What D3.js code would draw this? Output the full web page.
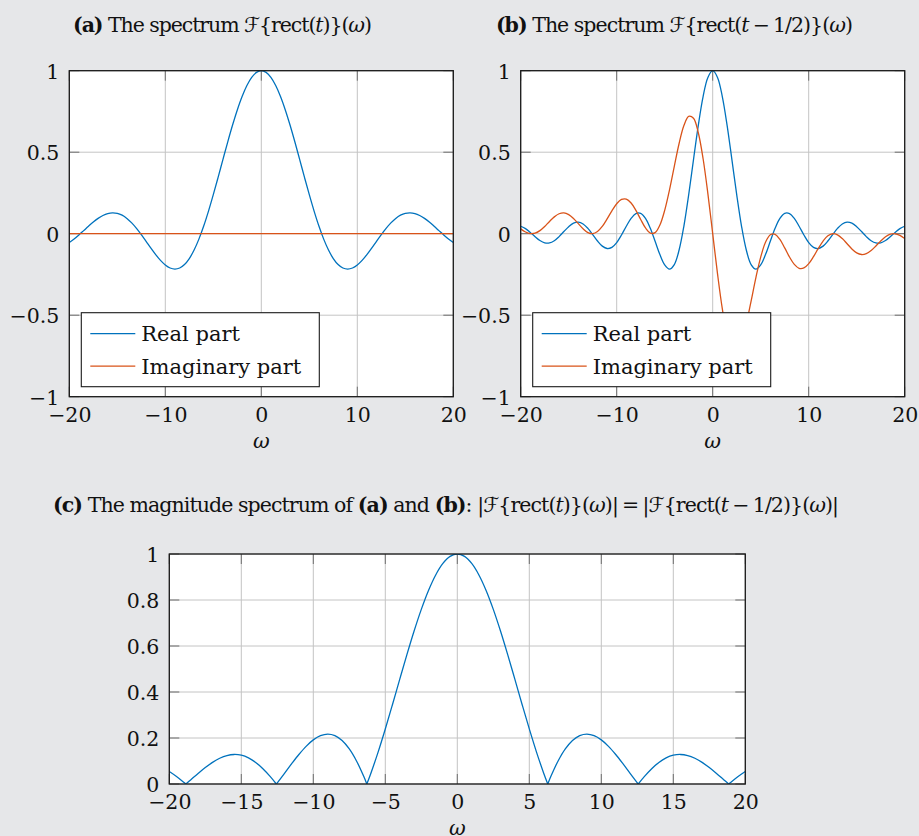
<!DOCTYPE html>
<html>
<head>
<meta charset="utf-8">
<script src="https://cdn.jsdelivr.net/npm/d3@7"></script>
<style>
  html, body { margin: 0; padding: 0; background: #e6e7e9; }
  svg { display: block; }
  text { font-family: "DejaVu Serif", "Liberation Serif", serif; fill: #111; }
</style>
</head>
<body>
<svg id="chart" width="919" height="836"></svg>
<script>
// Frequency samples shared by the spectra of rect(t) and rect(t - 1/2)
const omega = [
  -20, -19.5, -19, -18.5, -18, -17.5, -17, -16.5, -16, -15.5, -15, -14.5, -14, -13.5,
  -13, -12.5, -12, -11.5, -11, -10.5, -10, -9.5, -9, -8.5, -8, -7.5, -7, -6.5, -6,
  -5.5, -5, -4.5, -4, -3.5, -3, -2.5, -2, -1.5, -1, -0.5, 0, 0.5, 1, 1.5, 2, 2.5, 3,
  3.5, 4, 4.5, 5, 5.5, 6, 6.5, 7, 7.5, 8, 8.5, 9, 9.5, 10, 10.5, 11, 11.5, 12, 12.5,
  13, 13.5, 14, 14.5, 15, 15.5, 16, 16.5, 17, 17.5, 18, 18.5, 19, 19.5, 20
];

// (a) real part of F{rect(t)}
const rectReal = [
  -0.05440, -0.03273, -0.00791, 0.01880, 0.04579, 0.07140, 0.09394, 0.11183, 0.12367,
  0.12834, 0.12507, 0.11353, 0.09386, 0.06667, 0.03310, -0.00531, -0.04657, -0.08840,
  -0.12828, -0.16361, -0.19178, -0.21038, -0.21723, -0.21059, -0.18920, -0.15242,
  -0.10022, -0.03329, 0.04704, 0.13879, 0.23939, 0.34581, 0.45465, 0.56228, 0.66500,
  0.75919, 0.84147, 0.90885, 0.95885, 0.98962, 1, 0.98962, 0.95885, 0.90885, 0.84147,
  0.75919, 0.66500, 0.56228, 0.45465, 0.34581, 0.23939, 0.13879, 0.04704, -0.03329,
  -0.10022, -0.15242, -0.18920, -0.21059, -0.21723, -0.21038, -0.19178, -0.16361,
  -0.12828, -0.08840, -0.04657, -0.00531, 0.03310, 0.06667, 0.09386, 0.11353, 0.12507,
  0.12834, 0.12367, 0.11183, 0.09394, 0.07140, 0.04579, 0.01880, -0.00791, -0.03273,
  -0.05440
];

// (a) imaginary part of F{rect(t)} is identically zero
const omegaEnds = [-20, 20];
const rectImag = [0, 0];

// (b) real part of F{rect(t - 1/2)}
const shiftedReal = [
  0.04565, 0.03105, 0.00789, -0.01851, -0.04172, -0.05575, -0.05655, -0.04314, -0.01799,
  0.01332, 0.04335, 0.06448, 0.07076, 0.05954, 0.03232, -0.00531, -0.04471, -0.07613,
  -0.09091, -0.08378, -0.05440, -0.00791, 0.04579, 0.09394, 0.12367, 0.12507, 0.09386,
  0.03310, -0.04657, -0.12828, -0.19178, -0.21723, -0.18920, -0.10022, 0.04704, 0.23939,
  0.45465, 0.66500, 0.84147, 0.95885, 1, 0.95885, 0.84147, 0.66500, 0.45465, 0.23939,
  0.04704, -0.10022, -0.18920, -0.21723, -0.19178, -0.12828, -0.04657, 0.03310, 0.09386,
  0.12507, 0.12367, 0.09394, 0.04579, -0.00791, -0.05440, -0.08378, -0.09091, -0.07613,
  -0.04471, -0.00531, 0.03232, 0.05954, 0.07076, 0.06448, 0.04335, 0.01332, -0.01799,
  -0.04314, -0.05655, -0.05575, -0.04172, -0.01851, 0.00789, 0.03105, 0.04565
];

// (b) imaginary part of F{rect(t - 1/2)}
const shiftedImag = [
  0.02960, 0.01047, 0.00059, 0.00327, 0.01887, 0.04460, 0.07501, 0.10318, 0.12235,
  0.12764, 0.11731, 0.09344, 0.06166, 0.03001, 0.00712, 0.00018, 0.01301, 0.04493,
  0.09051, 0.14053, 0.18391, 0.21023, 0.21235, 0.18847, 0.14319, 0.08712, 0.03516,
  0.00360, 0.00664, 0.05297, 0.14327, 0.26907, 0.41341, 0.55327, 0.66333, 0.72046,
  0.70807, 0.61951, 0.45970, 0.24483, 0, -0.24483, -0.45970, -0.61951, -0.70807,
  -0.72046, -0.66333, -0.55327, -0.41341, -0.26907, -0.14327, -0.05297, -0.00664,
  -0.00360, -0.03516, -0.08712, -0.14319, -0.18847, -0.21235, -0.21023, -0.18391,
  -0.14053, -0.09051, -0.04493, -0.01301, -0.00018, -0.00712, -0.03001, -0.06166,
  -0.09344, -0.11731, -0.12764, -0.12235, -0.10318, -0.07501, -0.04460, -0.01887,
  -0.00327, -0.00059, -0.01047, -0.02960
];

// (c) magnitude spectrum, sampled with its zeros included
const omegaMag = [
  -20, -19.5, -19, -18.8496, -18.5, -18, -17.5, -17, -16.5, -16, -15.5, -15, -14.5, -14,
  -13.5, -13, -12.5664, -12.5, -12, -11.5, -11, -10.5, -10, -9.5, -9, -8.5, -8, -7.5, -7,
  -6.5, -6.2832, -6, -5.5, -5, -4.5, -4, -3.5, -3, -2.5, -2, -1.5, -1, -0.5, 0, 0.5, 1,
  1.5, 2, 2.5, 3, 3.5, 4, 4.5, 5, 5.5, 6, 6.2832, 6.5, 7, 7.5, 8, 8.5, 9, 9.5, 10, 10.5,
  11, 11.5, 12, 12.5, 12.5664, 13, 13.5, 14, 14.5, 15, 15.5, 16, 16.5, 17, 17.5, 18,
  18.5, 18.8496, 19, 19.5, 20
];
const magnitude = [
  0.05440, 0.03273, 0.00791, 0, 0.01880, 0.04579, 0.07140, 0.09394, 0.11183, 0.12367,
  0.12834, 0.12507, 0.11353, 0.09386, 0.06667, 0.03310, 0, 0.00531, 0.04657, 0.08840,
  0.12828, 0.16361, 0.19178, 0.21038, 0.21723, 0.21059, 0.18920, 0.15242, 0.10022,
  0.03329, 0, 0.04704, 0.13879, 0.23939, 0.34581, 0.45465, 0.56228, 0.66500, 0.75919,
  0.84147, 0.90885, 0.95885, 0.98962, 1, 0.98962, 0.95885, 0.90885, 0.84147, 0.75919,
  0.66500, 0.56228, 0.45465, 0.34581, 0.23939, 0.13879, 0.04704, 0, 0.03329, 0.10022,
  0.15242, 0.18920, 0.21059, 0.21723, 0.21038, 0.19178, 0.16361, 0.12828, 0.08840,
  0.04657, 0.00531, 0, 0.03310, 0.06667, 0.09386, 0.11353, 0.12507, 0.12834, 0.12367,
  0.11183, 0.09394, 0.07140, 0.04579, 0.01880, 0, 0.00791, 0.03273, 0.05440
];

// Tick values
const ticksX_ab = [-20, -10, 0, 10, 20];
const ticksY_ab = [-1, -0.5, 0, 0.5, 1];
const ticksX_c = [-20, -15, -10, -5, 0, 5, 10, 15, 20];
const ticksY_c = [0, 0.2, 0.4, 0.6, 0.8, 1];

const legendLabels = ["Real part", "Imaginary part"];

const BLUE = "#0072bd";
const ORANGE = "#d95319";

const svg = d3.select("#chart");
const fmt = d3.format("");

function zip(xs, ys) { return xs.map((x, i) => [x, ys[i]]); }

let clipCount = 0;

function drawPanel(opt) {
  const { left, top, width, height } = opt;
  const x = d3.scaleLinear().domain(opt.xDomain).range([0, width]);
  const y = d3.scaleLinear().domain(opt.yDomain).range([height, 0]);
  const g = svg.append("g").attr("transform", `translate(${left},${top})`);

  // plot area
  g.append("rect").attr("width", width).attr("height", height).attr("fill", "#fff");

  // grid
  g.append("g").selectAll("line").data(opt.xTicks).join("line")
    .attr("x1", d => x(d)).attr("x2", d => x(d)).attr("y1", 0).attr("y2", height)
    .attr("stroke", "#c4c4c4").attr("stroke-width", 1);
  g.append("g").selectAll("line").data(opt.yTicks).join("line")
    .attr("y1", d => y(d)).attr("y2", d => y(d)).attr("x1", 0).attr("x2", width)
    .attr("stroke", "#c4c4c4").attr("stroke-width", 1);

  // inner tick marks on all four sides
  const tl = 10;
  const tk = g.append("g").attr("stroke", "#6e6e6e").attr("stroke-width", 1);
  opt.xTicks.forEach(d => {
    tk.append("line").attr("x1", x(d)).attr("x2", x(d)).attr("y1", height).attr("y2", height - tl);
    tk.append("line").attr("x1", x(d)).attr("x2", x(d)).attr("y1", 0).attr("y2", tl);
  });
  opt.yTicks.forEach(d => {
    tk.append("line").attr("y1", y(d)).attr("y2", y(d)).attr("x1", 0).attr("x2", tl);
    tk.append("line").attr("y1", y(d)).attr("y2", y(d)).attr("x1", width).attr("x2", width - tl);
  });

  // curves, clipped to the plot area
  const cid = "clip" + (clipCount++);
  g.append("clipPath").attr("id", cid).append("rect").attr("width", width).attr("height", height);
  const cg = g.append("g").attr("clip-path", `url(#${cid})`);
  const line = d3.line().x(d => x(d[0])).y(d => y(d[1])).curve(d3.curveCatmullRom);
  opt.series.forEach(s => {
    s.pieces.forEach(p => {
      cg.append("path").attr("d", line(p)).attr("fill", "none")
        .attr("stroke", s.color).attr("stroke-width", 1.3)
        .attr("stroke-linejoin", "round");
    });
  });

  // frame
  g.append("rect").attr("width", width).attr("height", height)
    .attr("fill", "none").attr("stroke", "#1a1a1a").attr("stroke-width", 1.3);

  // tick labels
  const xAxis = d3.axisBottom(x).tickValues(opt.xTicks).tickSize(0).tickPadding(0).tickFormat(fmt);
  const ax = g.append("g").attr("transform", `translate(0,${height})`).call(xAxis);
  ax.select(".domain").remove();
  ax.selectAll("text").attr("y", 25).attr("dy", null)
    .style("font-family", '"DejaVu Serif", serif').style("font-size", "20.5px").attr("fill", "#111");

  const yAxis = d3.axisLeft(y).tickValues(opt.yTicks).tickSize(0).tickPadding(0).tickFormat(fmt);
  const ay = g.append("g").call(yAxis);
  ay.select(".domain").remove();
  ay.selectAll("text").attr("x", -10).attr("dy", "0.36em")
    .style("font-family", '"DejaVu Serif", serif').style("font-size", "20.5px").attr("fill", "#111");

  // axis label
  g.append("text").attr("x", x(0)).attr("y", height + 51).attr("text-anchor", "middle")
    .style("font-size", "20.5px").style("font-style", "italic").text("ω");

  // legend
  if (opt.legend) {
    const lw = 238, lh = 74;
    const lg = g.append("g").attr("transform", `translate(12,${height - 10 - lh})`);
    lg.append("rect").attr("width", lw).attr("height", lh)
      .attr("fill", "#fff").attr("stroke", "#1a1a1a").attr("stroke-width", 1.1);
    opt.series.forEach((s, i) => {
      const ly = 21 + i * 32.4;
      lg.append("line").attr("x1", 9).attr("x2", 54).attr("y1", ly).attr("y2", ly)
        .attr("stroke", s.color).attr("stroke-width", 1.3);
      lg.append("text").attr("x", 60).attr("y", ly + 7.6)
        .style("font-size", "21px").text(legendLabels[i]);
    });
  }
  return g;
}

// split a sampled curve at its zero samples so each lobe is a separate piece
function lobes(xs, ys) {
  const out = [];
  let cur = [];
  xs.forEach((xv, i) => {
    cur.push([xv, ys[i]]);
    if (ys[i] === 0 && cur.length > 1) { out.push(cur); cur = [[xv, ys[i]]]; }
  });
  if (cur.length > 1) out.push(cur);
  return out;
}

drawPanel({
  left: 69.3, top: 70.7, width: 384, height: 326,
  xDomain: [-20, 20], yDomain: [-1, 1], xTicks: ticksX_ab, yTicks: ticksY_ab,
  series: [
    { color: BLUE, pieces: [zip(omega, rectReal)] },
    { color: ORANGE, pieces: [zip(omegaEnds, rectImag)] }
  ],
  legend: true
});

drawPanel({
  left: 520.7, top: 70.7, width: 384, height: 326,
  xDomain: [-20, 20], yDomain: [-1, 1], xTicks: ticksX_ab, yTicks: ticksY_ab,
  series: [
    { color: BLUE, pieces: [zip(omega, shiftedReal)] },
    { color: ORANGE, pieces: [zip(omega, shiftedImag)] }
  ],
  legend: true
});

drawPanel({
  left: 169.3, top: 554, width: 576, height: 230,
  xDomain: [-20, 20], yDomain: [0, 1], xTicks: ticksX_c, yTicks: ticksY_c,
  series: [
    { color: BLUE, pieces: lobes(omegaMag, magnitude) }
  ],
  legend: false
});

// captions, each fitted to its line width
function caption(cx, cy, span, parts) {
  const t = svg.append("text").attr("x", cx).attr("y", cy).attr("text-anchor", "middle")
    .attr("textLength", span).attr("lengthAdjust", "spacing")
    .style("font-size", "20.5px");
  parts.forEach(p => {
    const s = t.append("tspan").text(p.t);
    if (p.b) s.style("font-weight", "bold");
    if (p.i) s.style("font-style", "italic");
    if (p.s) s.style("font-family", '"DejaVu Sans", "DejaVu Serif", serif');
  });
}

const MS = "\u2005"; // medium space around binary operators in the formulas

caption(222.5, 31.5, 299, [
  { t: "(a)", b: true }, { t: " The spectrum " }, { t: "ℱ", s: true },
  { t: "{rect(" }, { t: "t", i: true }, { t: ")}(" }, { t: "ω", i: true }, { t: ")" }
]);
caption(674.4, 31.5, 357, [
  { t: "(b)", b: true }, { t: " The spectrum " }, { t: "ℱ", s: true },
  { t: "{rect(" }, { t: "t", i: true }, { t: MS + "−" + MS + "1/2)}(" }, { t: "ω", i: true }, { t: ")" }
]);
caption(446, 512, 786, [
  { t: "(c)", b: true }, { t: " The magnitude spectrum of " }, { t: "(a)", b: true },
  { t: " and " }, { t: "(b)", b: true }, { t: ": |" }, { t: "ℱ", s: true },
  { t: "{rect(" }, { t: "t", i: true }, { t: ")}(" }, { t: "ω", i: true }, { t: ")|" + MS + "=" + MS + "|" },
  { t: "ℱ", s: true }, { t: "{rect(" }, { t: "t", i: true }, { t: MS + "−" + MS + "1/2)}(" },
  { t: "ω", i: true }, { t: ")|" }
]);
</script>
</body>
</html>
